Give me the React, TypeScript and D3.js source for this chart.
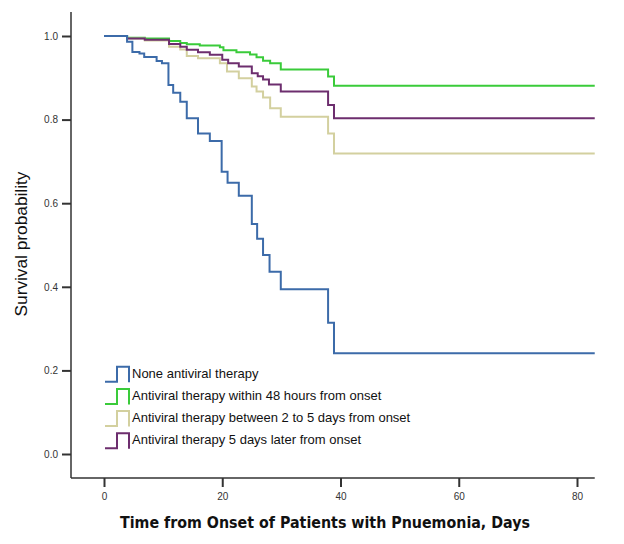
import React, { useEffect, useRef } from "react";
import * as d3 from "d3";

// Kaplan-Meier step data: time of each drop (days) and survival after the drop
const seriesNames = [
    "None antiviral therapy",
    "Antiviral therapy within 48 hours from onset",
    "Antiviral therapy between 2 to 5 days from onset",
    "Antiviral therapy 5 days later from onset",
];
const seriesColors = ["#3c6ba9", "#3acb3a", "#d3d09f", "#6d2e6e"];

const noneTimes = [3.9, 4.8, 6.0, 6.8, 8.9, 9.8, 10.9, 11.7, 12.9, 14.0, 15.9, 17.9, 19.9, 20.9, 22.8, 25.0, 25.9, 26.9, 28.0, 29.9, 37.9, 38.9];
const noneSurv = [0.986, 0.962, 0.958, 0.95, 0.94, 0.935, 0.883, 0.864, 0.843, 0.803, 0.767, 0.749, 0.675, 0.649, 0.618, 0.55, 0.515, 0.476, 0.436, 0.394, 0.314, 0.241];

const within48Times = [3.9, 6.9, 11.0, 12.9, 14.0, 16.2, 19.6, 20.2, 22.4, 24.7, 25.8, 26.9, 28.1, 29.9, 37.9, 38.9];
const within48Surv = [0.996, 0.994, 0.988, 0.983, 0.98, 0.977, 0.973, 0.966, 0.961, 0.956, 0.949, 0.941, 0.935, 0.92, 0.903, 0.881];

const between2to5Times = [3.9, 6.9, 11.0, 12.9, 14.0, 15.9, 19.6, 20.8, 22.8, 25.0, 25.8, 26.9, 28.1, 29.9, 37.9, 38.9];
const between2to5Surv = [0.994, 0.989, 0.974, 0.968, 0.952, 0.947, 0.935, 0.915, 0.899, 0.879, 0.867, 0.853, 0.827, 0.807, 0.767, 0.719];

const laterTimes = [3.9, 6.9, 11.0, 12.9, 14.0, 15.9, 17.9, 20.0, 21.0, 22.8, 25.0, 26.0, 26.9, 27.9, 29.9, 37.9, 38.9];
const laterSurv = [0.994, 0.991, 0.981, 0.974, 0.967, 0.961, 0.955, 0.943, 0.935, 0.927, 0.911, 0.904, 0.896, 0.884, 0.867, 0.835, 0.803];

const xTicks = [0, 20, 40, 60, 80];
const yTicks = [0, 0.2, 0.4, 0.6, 0.8, 1.0];
const lastDay = 83;

const KMChart = () => {
    const ref = useRef<SVGSVGElement>(null);

    useEffect(() => {
        if (!ref.current) return;
        const svg = d3.select(ref.current);
        svg.selectAll("*").remove();

        const x = d3.scaleLinear().domain([0, 80]).range([104, 577]);
        const y = d3.scaleLinear().domain([0, 1]).range([454, 36]);

        const curves = [
            { t: noneTimes, s: noneSurv, i: 0 },
            { t: within48Times, s: within48Surv, i: 1 },
            { t: between2to5Times, s: between2to5Surv, i: 2 },
            { t: laterTimes, s: laterSurv, i: 3 },
        ];

        const line = d3
            .line<[number, number]>()
            .x((d) => x(d[0]))
            .y((d) => y(d[1]))
            .curve(d3.curveStepAfter);

        // draw order: green, tan, purple, blue on top
        [1, 2, 3, 0].forEach((k) => {
            const c = curves[k];
            const pts: [number, number][] = [[0, 1]];
            c.t.forEach((t, j) => pts.push([t, c.s[j]]));
            pts.push([lastDay, c.s[c.s.length - 1]]);
            svg.append("path")
                .attr("d", line(pts) ?? "")
                .attr("fill", "none")
                .attr("stroke", seriesColors[c.i])
                .attr("stroke-width", 2);
        });

        // axes
        const xAxis = d3.axisBottom(x).tickValues(xTicks).tickSize(9).tickSizeOuter(0).tickFormat(d3.format("d"));
        const gx = svg.append("g").attr("transform", `translate(0,${478})`).call(xAxis);
        gx.select(".domain").remove();
        gx.append("line")
            .attr("x1", 71).attr("x2", x(lastDay))
            .attr("stroke", "#333").attr("stroke-width", 1.5);
        gx.selectAll(".tick line").attr("stroke", "#333").attr("stroke-width", 2);
        gx.selectAll(".tick text")
            .attr("y", 15)
            .attr("fill", "#333")
            .style("font-family", "'Liberation Sans', Arial, sans-serif")
            .style("font-size", "10px");

        const yAxis = d3.axisLeft(y).tickValues(yTicks).tickSize(9).tickSizeOuter(0).tickFormat(d3.format(".1f"));
        const gy = svg.append("g").attr("transform", `translate(${71},0)`).call(yAxis);
        gy.select(".domain").remove();
        gy.append("line")
            .attr("y1", 12).attr("y2", 478)
            .attr("stroke", "#333").attr("stroke-width", 1.5);
        gy.selectAll(".tick line").attr("stroke", "#333").attr("stroke-width", 2);
        gy.selectAll(".tick text")
            .attr("x", -13)
            .attr("fill", "#333")
            .style("font-family", "'Liberation Sans', Arial, sans-serif")
            .style("font-size", "10px");

        // axis titles
        svg.append("text")
            .attr("x", 325)
            .attr("y", 528)
            .attr("text-anchor", "middle")
            .attr("textLength", 410)
            .attr("lengthAdjust", "spacingAndGlyphs")
            .style("font-family", "'DejaVu Sans', Verdana, sans-serif")
            .style("font-weight", "bold")
            .style("font-size", "15px")
            .attr("fill", "#111")
            .text("Time from Onset of Patients with Pnuemonia, Days");

        svg.append("text")
            .attr("transform", "translate(27,244) rotate(-90)")
            .attr("text-anchor", "middle")
            .attr("textLength", 145)
            .attr("lengthAdjust", "spacingAndGlyphs")
            .style("font-family", "'Liberation Sans', Arial, sans-serif")
            .style("font-size", "17px")
            .attr("fill", "#111")
            .text("Survival probability");

        // legend
        const lg = svg.append("g");
        seriesNames.forEach((name, i) => {
            const cy = 373.3 + i * 22.2;
            const bottom = cy + 8.4;
            const top = cy - 6.6;
            lg.append("path")
                .attr("d", `M105,${bottom}H117V${top}H129V${bottom + 0.5}`)
                .attr("fill", "none")
                .attr("stroke", seriesColors[i])
                .attr("stroke-width", 2);
            lg.append("text")
                .attr("x", 132)
                .attr("y", cy + 4.5)
                .style("font-family", "'Liberation Sans', Arial, sans-serif")
                .style("font-size", "13px")
                .attr("fill", "#111")
                .text(name);
        });
    }, []);

    return (
        <svg
            ref={ref}
            width={624}
            height={544}
            style={{ position: "absolute", left: 0, top: 0, background: "#fff" }}
        />
    );
};

export default function App() {
    return <KMChart />;
}
